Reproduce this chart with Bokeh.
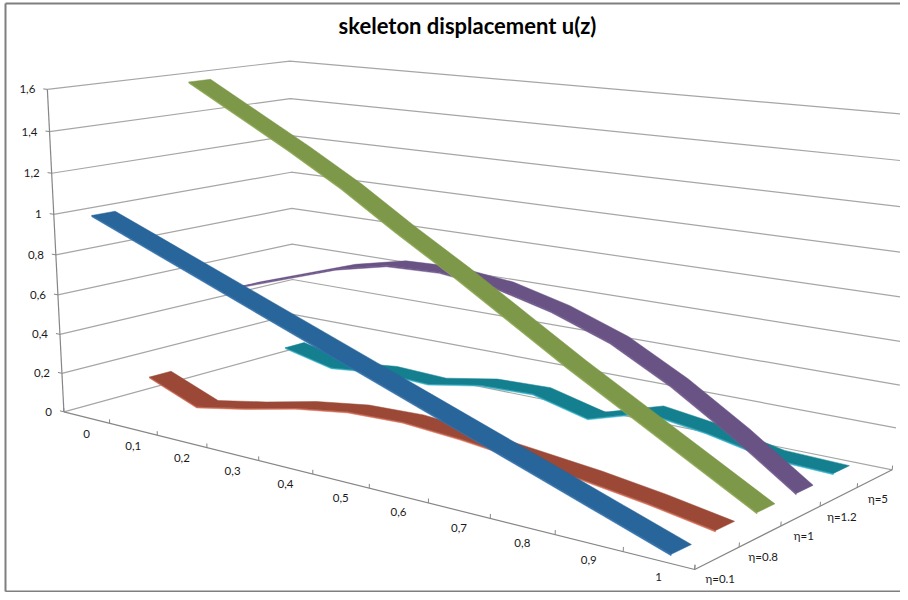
import numpy as np
from bokeh.plotting import figure
from bokeh.models import Range1d
from bokeh.core.properties import value
from bokeh.embed import file_html
from bokeh.resources import INLINE

TITLE = "skeleton displacement u(z)"
z_labels = ["0","0,1","0,2","0,3","0,4","0,5","0,6","0,7","0,8","0,9","1"]
series_labels = ["η=0.1","η=0.8","η=1","η=1.2","η=5"]
y_ticks = [0,0.2,0.4,0.6,0.8,1.0,1.2,1.4,1.6]
y_labels = ["0","0,2","0,4","0,6","0,8","1","1,2","1,4","1,6"]
YMAX = 1.6

eta_01 = [1.00,0.90,0.80,0.70,0.60,0.50,0.40,0.30,0.20,0.10,0.00]
eta_08 = [0.12,0.02,0.07,0.13,0.17,0.18,0.16,0.13,0.10,0.06,0.01]
eta_1  = [1.58,1.44,1.30,1.15,0.98,0.82,0.65,0.48,0.32,0.16,0.00]
eta_12 = [0.48,0.57,0.66,0.72,0.73,0.70,0.63,0.53,0.38,0.20,0.00]
eta_5  = [0.08,0.02,0.05,0.04,0.09,0.10,0.03,0.12,0.08,0.02,0.01]
series = [eta_01,eta_08,eta_1,eta_12,eta_5]

colors=["#28659A","#9B4837","#7D9848","#695284","#14808F"]
edges=["#3272AE","#D9705A","#8DA851","#73598F","#35B4CC"]
HALF=0.045; THICK=0.006

# camera calibration: (u, v, w) box corners -> screen
corners = [((0,0,0),(62.5,410)),((1,0,0),(694,570.5)),((0,1,0),(294,350)),((1,1,0),(891.5,467.5)),
           ((0,0,1),(48,89)),((0,1,1),(288,60)),((1,1,1),(924,116))]
A=[]; b=[]
for (u,v,w),(X,Y) in corners:
    A.append([u,v,w,1,0,0,0,0,-X*u,-X*v,-X*w]); b.append(X)
    A.append([0,0,0,0,u,v,w,1,-Y*u,-Y*v,-Y*w]); b.append(Y)
m=np.linalg.lstsq(np.array(A,float),np.array(b,float),rcond=None)[0]
M=np.append(m,1).reshape(3,4)
def proj(u,v,val):
    h=M@np.array([u,v,val/YMAX,1.0])
    return h[0]/h[2],h[1]/h[2]

p=figure(width=900,height=592,output_backend="svg",toolbar_location=None,
         x_range=Range1d(0,900),y_range=Range1d(592,0),min_border=0,outline_line_color=None)
p.axis.visible=False; p.grid.visible=False

def seg(pts,color,w=1.0):
    p.line([q[0] for q in pts],[q[1] for q in pts],line_color=color,line_width=w)

GRID="#A6A6A6"; AX="#868686"
for t in y_ticks:
    seg([proj(0,0,t),proj(0,1,t),proj(1,1,t)],GRID,1.2)
seg([proj(0,0,0),proj(0,0,YMAX)],AX,1.2)
seg([proj(0,0,0),proj(1,0,0),proj(1,1,0)],AX,1.2)
for t in y_ticks:
    seg([proj(0,0,t),proj(-0.008,0,t)],AX,1)
for k in range(12):
    seg([proj(k/11,0,0),proj(k/11,0,0.02)],AX,1)
for k in range(6):
    seg([proj(1,k/5,0),proj(1,k/5,0.02)],AX,1)

for s in [4,3,2,1,0]:
    us=[(i+.5)/11 for i in range(11)]
    v=(s+.5)/5
    data=series[s]
    front=[proj(u,v-HALF,d) for u,d in zip(us,data)]
    back=[proj(u,v+HALF,d) for u,d in zip(us,data)]
    lower=[proj(u,v-HALF,d-THICK) for u,d in zip(us,data)]
    q=front+lower[::-1]
    p.patch([a[0] for a in q],[a[1] for a in q],fill_color=edges[s],line_color=edges[s],line_width=0.5)
    q=front+back[::-1]
    p.patch([a[0] for a in q],[a[1] for a in q],fill_color=colors[s],line_color=colors[s],line_width=0.5)

# frame
p.line([5,5],[3,591],line_color="#7F7F7F",line_width=2)
p.line([5,900],[3,3],line_color="#7F7F7F",line_width=2)
p.line([5,900],[591,591],line_color="#7F7F7F",line_width=2)

F=value("Lato")
p.text([467],[25],text=[TITLE],text_font=F,text_font_style="bold",text_font_size="22px",text_align="center",text_baseline="middle",text_color="#000000")
xs=[proj(0,0,t)[0]-12 for t in y_ticks]; ys=[proj(0,0,t)[1] for t in y_ticks]
p.text(xs,ys,text=y_labels,text_font=F,text_font_size="11.5px",text_align="right",text_baseline="middle",text_color="#1a1a1a")
pts=[proj((i+.5)/11,0,0) for i in range(11)]
p.text([a[0] for a in pts],[a[1]+17 for a in pts],text=z_labels,text_font=F,text_font_size="11.5px",text_align="center",text_baseline="middle",text_color="#1a1a1a")
pts=[proj(1,(i+.5)/5,0) for i in range(5)]
p.text([a[0]+3 for a in pts],[a[1]+20 for a in pts],text=series_labels,text_font=F,text_font_size="11.5px",text_align="center",text_baseline="middle",text_color="#1a1a1a")
open("out.html","w").write(file_html(p,INLINE))
